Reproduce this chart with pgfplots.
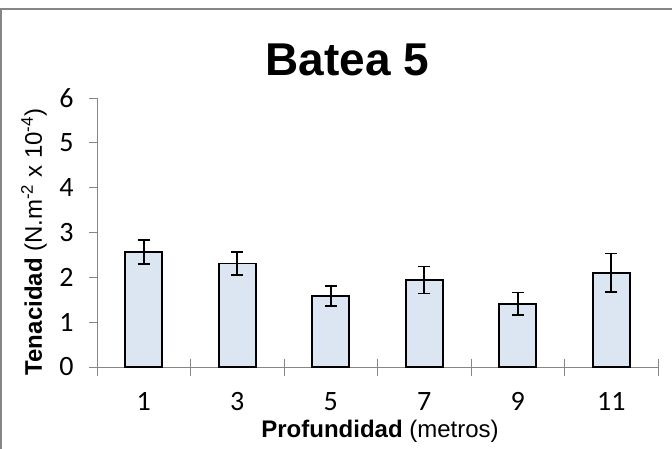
\documentclass[border=0pt]{standalone}
\usepackage{fontspec}
\setmainfont{Liberation Sans}
\newfontfamily\calibri{Carlito}
\usepackage{pgfplots}
\pgfplotsset{compat=1.18}
\definecolor{axgray}{RGB}{134,134,134}
\definecolor{barfill}{RGB}{220,230,242}
\begin{document}
\begin{tikzpicture}[x=1pt,y=1pt]
\useasboundingbox (-97,-81) rectangle (575,367);
\begin{scope}
\clip (-97,-81) rectangle (575,367);
\draw[axgray, line width=1.3pt] (-96,-90) -- (-96,358) -- (590,358);
\end{scope}
\begin{axis}[
  at={(0pt,0pt)}, anchor=origin,
  scale only axis,
  width=561pt, height=269pt,
  xmin=0.5, xmax=6.5,
  ymin=0, ymax=6,
  axis x line*=bottom, axis y line*=left,
  axis line style={axgray, line width=1pt, -},
  xtick={1,2,3,4,5,6},
  xticklabels={1,3,5,7,9,11},
  ytick={0,1,2,3,4,5,6},
  major tick length=0pt,
  tick style={axgray, line width=1pt},
  extra x ticks={0.5,1.5,2.5,3.5,4.5,5.5,6.5},
  extra x tick labels={},
  extra x tick style={tick align=center, major tick length=17pt, xticklabel=\empty},
  /pgf/number format/assume math mode=true,
  ticklabel style={font=\calibri\fontsize{28}{28}\selectfont, text=black},
  xticklabel style={yshift=-22pt},
  yticklabel style={xshift=-20pt},
  clip=false,
]
\addplot[ybar, bar width=37pt, fill=barfill, draw=black, line width=1.8pt,
  error bars/.cd, y dir=both, y explicit,
  error mark=|,
  error bar style={line width=1.8pt, black, solid},
  error mark options={/tikz/line width=1.8pt, black, solid, mark size=6pt}]
  coordinates {
  (1,2.57) +- (0,0.27)
  (2,2.31) +- (0,0.25)
  (3,1.58) +- (0,0.22)
  (4,1.94) +- (0,0.30)
  (5,1.41) +- (0,0.25)
  (6,2.10) +- (0,0.43)
  };
\end{axis}
\draw[axgray, line width=1pt] (-8,0) -- (0,0);
\foreach \yy in {1,...,6} {\draw[axgray, line width=1pt] (-8,{\yy*269/6}) -- (0,{\yy*269/6});}
\node[anchor=base, font=\bfseries\fontsize{46}{46}\selectfont] at (250.5,292) {Batea 5};
\node[anchor=base, font=\fontsize{24}{24}\selectfont] at (283,-70) {\textbf{Profundidad} (metros)};
\node[anchor=base, rotate=90, font=\fontsize{24}{24}\selectfont] at (-55,125) {\textbf{Tenacidad} (N.m\textsuperscript{-2} x 10\textsuperscript{-4})};
\end{tikzpicture}
\end{document}
